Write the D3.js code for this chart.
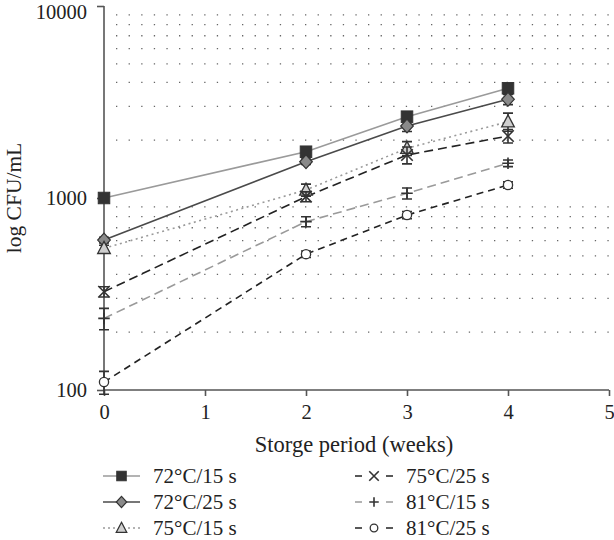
<!DOCTYPE html>
<html><head><meta charset="utf-8">
<script src="https://cdn.jsdelivr.net/npm/d3@7"></script>
<style>body{margin:0;background:#fff}svg{display:block}text{font-family:"Liberation Serif","Times New Roman",serif;fill:#222}</style>
</head><body><svg id="c" width="614" height="540"></svg>
<script>
const weeks = [0, 2, 3, 4];
const seriesNames = ["72°C/15 s", "72°C/25 s", "75°C/15 s", "75°C/25 s", "81°C/15 s", "81°C/25 s"];
const s72_15 = [1000, 1742, 2652, 3727];
const s72_25 = [604, 1545, 2371, 3266];
const s75_15 = [547, 1101, 1815, 2496];
const s75_25 = [325, 1016, 1675, 2103];
const s81_15 = [236, 753, 1058, 1517];
const s81_25 = [110, 510, 815, 1169];
const e72_15 = [0, 0, 0, 0];
const e72_25 = [20, 50, 150, 200];
const e75_15 = [20, 80, 150, 270];
const e75_25 = [20, 60, 170, 170];
const e81_15 = [30, 45, 70, 60];
const e81_25 = [15, 20, 35, 45];
const xTicks = [0, 1, 2, 3, 4, 5];
const yTicks = [100, 1000, 10000];
const xLabel = "Storge period (weeks)";
const yLabel = "log CFU/mL";

const values = [s72_15, s72_25, s75_15, s75_25, s81_15, s81_25];
const errors = [e72_15, e72_25, e75_15, e75_25, e81_15, e81_25];
const styles = [
  {line:"#9a9a9a", dash:null, w:1.6, marker:"square", fill:"#333"},
  {line:"#4a4a4a", dash:null, w:1.6, marker:"diamond", fill:"#8a8a8a"},
  {line:"#9a9a9a", dash:"2,3.5", w:1.6, marker:"triangle", fill:"#cfcfcf"},
  {line:"#222", dash:"9,5", w:1.6, marker:"x", fill:"none"},
  {line:"#9a9a9a", dash:"9,5", w:1.6, marker:"plus", fill:"none"},
  {line:"#222", dash:"7,5", w:1.6, marker:"circle", fill:"#fff"}
];

const svg = d3.select("#c");
const x = d3.scaleLinear().domain([0,5]).range([104,609]);
const y = d3.scaleLog().domain([100,10000]).range([390,6]);

// dotted grid at minor log ticks
const grid = [];
[100,1000].forEach(b=>{for(let k=2;k<=9;k++)grid.push(b*k);});
svg.append("g").selectAll("line").data(grid).join("line")
  .attr("x1",x(0)+1).attr("x2",x(5)).attr("y1",d=>y(d)).attr("y2",d=>y(d))
  .attr("stroke","#666").attr("stroke-width",1.3).attr("stroke-dasharray","1.3,11.3")
  .attr("stroke-dashoffset",-11);

// axes
const gx = svg.append("g").attr("transform","translate(0,390)")
  .call(d3.axisBottom(x).tickValues(xTicks).tickSize(6).tickPadding(8).tickFormat(d3.format("d")));
const gy = svg.append("g").attr("transform","translate(104,0)")
  .call(d3.axisLeft(y).tickValues(yTicks).tickSize(7).tickPadding(10).tickFormat(d3.format("d")));
[gx,gy].forEach(g=>{
  g.select(".domain").attr("stroke","#555").attr("stroke-width",1.6);
  g.selectAll(".tick line").attr("stroke","#555").attr("stroke-width",1.6);
  g.selectAll("text").attr("font-family","Liberation Serif, serif").attr("font-size",20.5).attr("fill","#222");
});
gy.select(".domain").attr("d","M0,6V390");
gx.select(".domain").attr("d","M104,0H609");
gy.selectAll(".tick text").filter(d=>d===10000).attr("dy","0.62em");

svg.append("text").attr("x",354).attr("y",452).attr("text-anchor","middle").attr("font-size",22.5).text(xLabel);
svg.append("text").attr("transform","translate(21,198) rotate(-90)").attr("text-anchor","middle").attr("font-size",21.5).text(yLabel);

function marker(g, type, cx, cy, s, fill){
  const st = "#333";
  if(type==="square") g.append("rect").attr("x",cx-s/2).attr("y",cy-s/2).attr("width",s).attr("height",s).attr("fill",fill).attr("stroke",st).attr("stroke-width",1);
  else if(type==="diamond") g.append("path").attr("d",`M${cx},${cy-s*0.6}L${cx+s*0.55},${cy}L${cx},${cy+s*0.6}L${cx-s*0.55},${cy}Z`).attr("fill",fill).attr("stroke",st).attr("stroke-width",1.2);
  else if(type==="triangle") g.append("path").attr("d",`M${cx},${cy-s*0.6}L${cx+s*0.55},${cy+s*0.45}L${cx-s*0.55},${cy+s*0.45}Z`).attr("fill",fill).attr("stroke",st).attr("stroke-width",1.3);
  else if(type==="x") g.append("path").attr("d",`M${cx-s/2},${cy-s/2}L${cx+s/2},${cy+s/2}M${cx-s/2},${cy+s/2}L${cx+s/2},${cy-s/2}`).attr("stroke",st).attr("stroke-width",1.6);
  else if(type==="plus") g.append("path").attr("d",`M${cx-s/2},${cy}L${cx+s/2},${cy}M${cx},${cy-s/2}L${cx},${cy+s/2}`).attr("stroke",st).attr("stroke-width",1.6);
  else if(type==="circle") g.append("circle").attr("cx",cx).attr("cy",cy).attr("r",s*0.4).attr("fill",fill).attr("stroke",st).attr("stroke-width",1.3);
}

const line = d3.line().x(d=>x(d[0])).y(d=>y(d[1]));
values.forEach((vals,i)=>{
  const st = styles[i];
  const pts = weeks.map((w,j)=>[w,vals[j]]);
  svg.append("path").datum(pts).attr("d",line).attr("fill","none")
    .attr("stroke",st.line).attr("stroke-width",st.w).attr("stroke-dasharray",st.dash);
});
values.forEach((vals,i)=>{
  const st = styles[i];
  const g = svg.append("g");
  weeks.forEach((w,j)=>{
    const e = errors[i][j];
    if(e>0){
      const cx=x(w), y1=y(vals[j]+e), y2=y(vals[j]-e);
      g.append("path").attr("d",`M${cx},${y1}V${y2}M${cx-5},${y1}H${cx+5}M${cx-5},${y2}H${cx+5}`)
        .attr("stroke","#333").attr("stroke-width",1.6).attr("fill","none");
    }
  });
  weeks.forEach((w,j)=>marker(g, st.marker, x(w), y(vals[j]), 11.5, st.fill));
});

// legend
const leg = svg.append("g");
seriesNames.forEach((name,i)=>{
  const col = i<3?0:1, row = i%3;
  const st = styles[i];
  const cy = [476,502,528][row];
  const x0 = col===0?103:355, x1 = col===0?140:393, tx = col===0?153:406;
  const mx = (x0+x1)/2;
  let dash = st.dash;
  if(i===2) dash="2,3";
  leg.append("line").attr("x1",x0).attr("x2",x1).attr("y1",cy).attr("y2",cy)
    .attr("stroke",st.line).attr("stroke-width",1.5).attr("stroke-dasharray", col===1? "7,24" : dash);
  marker(leg, st.marker, mx, cy, 9.5, st.fill);
  leg.append("text").attr("x",tx).attr("y",cy+7).attr("font-size",21).text(name);
});
</script></body></html>
